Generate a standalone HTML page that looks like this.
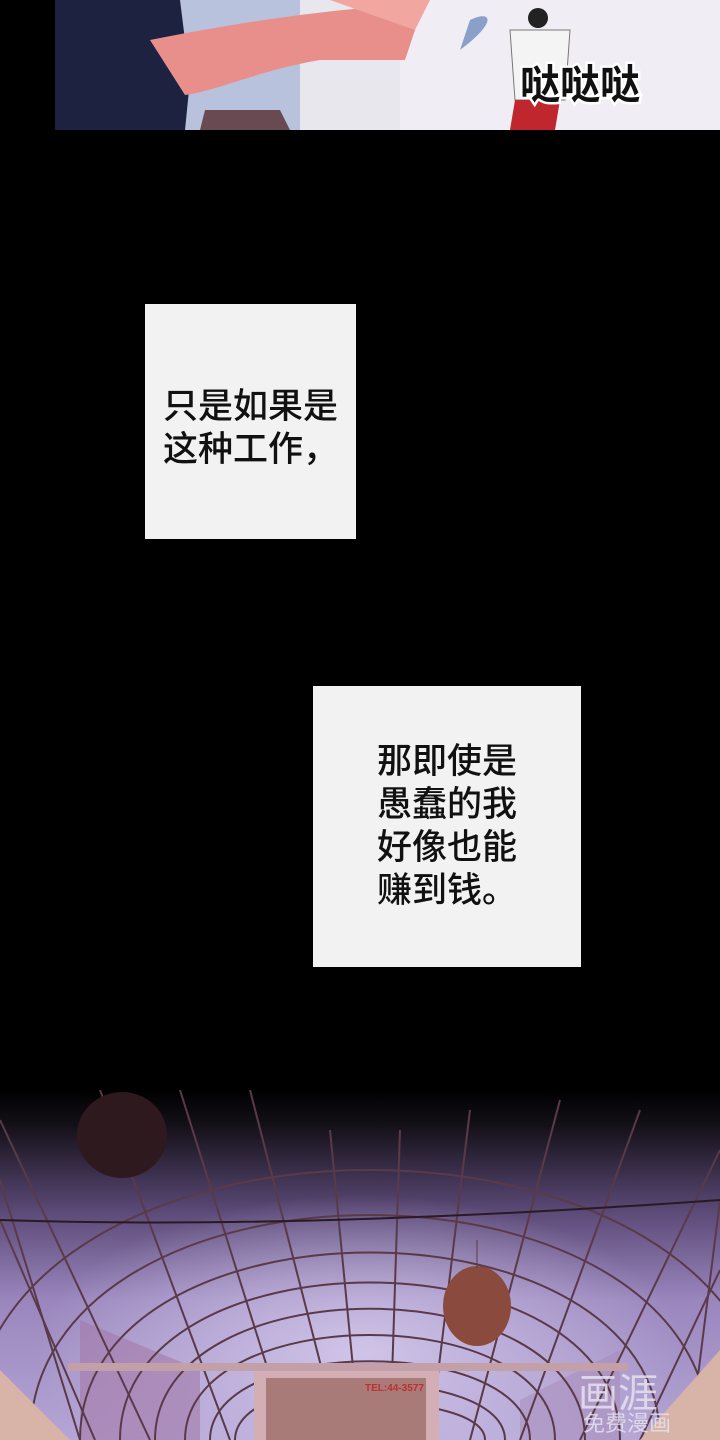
<!DOCTYPE html>
<html><head><meta charset="utf-8"><style>
html,body{margin:0;padding:0;background:#000;}
body{width:720px;height:1440px;position:relative;overflow:hidden;font-family:"Liberation Sans","Noto Sans CJK SC",sans-serif;}
.box{position:absolute;background:#f2f2f2;color:#111;font-size:35px;line-height:43px;text-align:center;font-weight:500;}
</style></head><body>
<svg width="720" height="130" style="position:absolute;left:0;top:0">
<rect x="55" y="0" width="665" height="130" fill="#e9e7ee"/>
<rect x="400" y="0" width="320" height="130" fill="#f0eef4"/>
<path d="M180 0 L300 0 L300 130 L180 130Z" fill="#b9c2dc"/>
<path d="M205 110 L280 110 L290 130 L200 130Z" fill="#6a4a52"/>
<path d="M55 0 L180 0 L190 80 L185 130 L55 130Z" fill="#1c2240"/>
<path d="M150 40 C250 20 330 10 400 5 L415 30 L405 60 L320 60 C260 70 220 90 185 95 Z" fill="#e88f8c"/>
<path d="M330 0 L430 0 L415 30 Z" fill="#f2a6a0"/>
<path d="M470 20 C490 10 500 20 460 50 Z" fill="#8aa0c8"/>
<circle cx="538" cy="18" r="10" fill="#222"/>
<path d="M510 30 L570 30 L565 100 L515 100 Z" fill="#f4f4f4" stroke="#777"/>
<path d="M515 100 L560 100 L555 130 L510 130Z" fill="#c0262e"/>
<text x="520" y="98" font-size="40" font-weight="bold" fill="#111" font-family="Noto Sans CJK SC" stroke="#fff" stroke-width="5" paint-order="stroke">哒哒哒</text>
</svg>
<div class="box" style="left:145px;top:304px;width:211px;height:235px;"><div style="padding-top:81px">只是如果是<br>这种工作，</div></div>
<div class="box" style="left:313px;top:686px;width:268px;height:281px;"><div style="padding-top:54px">那即使是<br>愚蠢的我<br>好像也能<br>赚到钱。</div></div>
<svg width="720" height="350" style="position:absolute;left:0;top:1090px">
<defs>
<linearGradient id="g" x1="0" y1="0" x2="0" y2="1">
<stop offset="0" stop-color="#000"/>
<stop offset="0.1" stop-color="#141018"/>
<stop offset="0.35" stop-color="#5c4a78"/>
<stop offset="0.6" stop-color="#9a86bd"/>
<stop offset="1" stop-color="#b5a6d6"/>
</linearGradient>
<radialGradient id="r" cx="0.5" cy="0.75" r="0.45">
<stop offset="0" stop-color="#d4caec" stop-opacity="0.9"/>
<stop offset="1" stop-color="#d4caec" stop-opacity="0"/>
</radialGradient>
</defs>
<rect width="720" height="350" fill="url(#g)"/>
<rect width="720" height="350" fill="url(#r)"/>
<path d="M80 230 L200 280 L200 350 L80 350Z" fill="#a37aa8" opacity="0.6"/>
<path d="M520 310 L620 260 L620 350 L520 350Z" fill="#a88ab8" opacity="0.5"/>
<g fill="none" stroke="#5a3a48" stroke-width="2">
<path d="M-30 350 C-30 -10 770 -10 770 350"/>
<path d="M30 350 C30 50 710 50 710 350"/>
<path d="M80 350 C80 100 660 100 660 350"/>
<path d="M120 350 C120 140 620 140 620 350"/>
<path d="M155 350 C155 175 585 175 585 350"/>
<path d="M185 350 C185 210 555 210 555 350"/>
<path d="M210 350 C210 245 530 245 530 350"/>
<path d="M235 350 C235 275 505 275 505 350"/>
<path d="M255 350 C255 300 485 300 485 350"/>
<path d="M0 30 L150 350"/><path d="M0 130 L95 350"/>
<path d="M100 0 L230 350"/><path d="M180 0 L290 350"/>
<path d="M250 0 L340 350"/><path d="M330 40 L360 350"/>
<path d="M400 40 L390 350"/><path d="M470 20 L430 350"/>
<path d="M560 10 L470 350"/><path d="M640 20 L520 350"/>
<path d="M720 60 L580 350"/><path d="M720 180 L640 350"/>
<path d="M0 90 L80 350"/><path d="M720 110 L690 350"/>
</g>
<path d="M0 130 Q300 140 720 110" stroke="#2a1a24" stroke-width="2" fill="none"/>
<path d="M0 280 L70 350 L0 350Z" fill="#d7b3a8"/>
<path d="M720 260 L640 350 L720 350Z" fill="#d7b3a8"/>
<ellipse cx="122" cy="45" rx="45" ry="43" fill="#2e1a1e"/>
<ellipse cx="477" cy="216" rx="34" ry="40" fill="#8a4a3e"/>
<line x1="477" y1="150" x2="477" y2="178" stroke="#5a3a48"/>
<rect x="68" y="273" width="560" height="8" fill="#c39fa8"/>
<rect x="254" y="281" width="185" height="69" fill="#d3aeb5"/>
<rect x="266" y="288" width="160" height="62" fill="#a87a78"/>
<text x="365" y="301" font-size="10" fill="#c03030" font-weight="bold">TEL:44-3577</text>
<text x="578" y="317" font-size="40" fill="#e6e2ee" opacity="0.85" font-family="Noto Sans CJK SC">画涯</text>
<text x="583" y="341" font-size="22" fill="#e6e2ee" opacity="0.85" font-family="Noto Sans CJK SC">免费漫画</text>
</svg>
</body></html>
